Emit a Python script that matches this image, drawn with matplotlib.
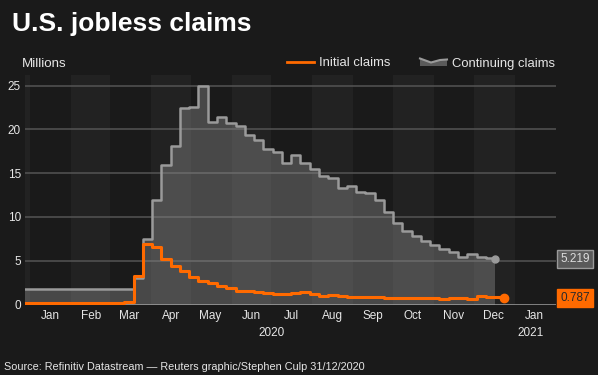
import matplotlib
matplotlib.use("Agg")
import matplotlib.pyplot as plt
from matplotlib.patches import Polygon
from matplotlib.lines import Line2D
import pandas as pd

plt.rcParams['font.family'] = ['Liberation Sans', 'DejaVu Sans']

BG = '#1a1a1a'
BAND = '#222222'
ORANGE = '#ff6a00'
GREY_LINE = '#9a9a9a'
TXT = '#e6e6e6'

# weekly data (millions), plotted on Thursdays
cont_dates = pd.date_range('2019-12-26', '2020-12-17', freq='7D')
continuing = [1.80, 1.73, 1.73, 1.73, 1.72, 1.72, 1.72, 1.72, 1.72, 1.72,
              1.72, 1.80, 3.03, 7.45, 11.9, 15.9, 18.1, 22.4, 22.6, 25.0,
              20.8, 21.4, 20.7, 20.4, 19.3, 18.8, 17.8, 17.4, 16.2, 17.1,
              16.1, 15.5, 14.7, 14.4, 13.3, 13.5, 12.8, 12.7, 11.9, 10.6,
              9.3, 8.4, 7.85, 7.2, 6.8, 6.3, 6.0, 5.45, 5.8, 5.45,
              5.3, 5.219]

init_dates = pd.date_range('2019-12-26', '2020-12-24', freq='7D')
initial = [0.22, 0.21, 0.21, 0.22, 0.22, 0.20, 0.20, 0.21, 0.22, 0.22,
           0.21, 0.25, 3.31, 6.87, 6.62, 5.24, 4.44, 3.87, 3.18, 2.69,
           2.45, 2.13, 1.90, 1.58, 1.56, 1.45, 1.30, 1.20, 1.20, 1.35,
           1.47, 1.15, 1.00, 1.12, 1.00, 0.89, 0.88, 0.87, 0.87, 0.78,
           0.78, 0.79, 0.78, 0.77, 0.77, 0.65, 0.78, 0.77, 0.65, 0.92,
           0.90, 0.80, 0.787]

month_labels = ['Jan', 'Feb', 'Mar', 'Apr', 'May', 'Jun', 'Jul', 'Aug',
                'Sep', 'Oct', 'Nov', 'Dec', 'Jan']
month_mids = pd.to_datetime([f'2020-{m:02d}-16' for m in range(1, 13)] + ['2021-01-16'])
y_ticks = [0, 5, 10, 15, 20, 25]

W, H = 598, 375
fig = plt.figure(figsize=(W / 100, H / 100), dpi=100, facecolor=BG)
ax = fig.add_axes([25 / W, (H - 304.5) / H, (556 - 25) / W, (304.5 - 75) / H])
ax.set_facecolor(BG)

ax.set_xlim(pd.Timestamp('2019-12-28'), pd.Timestamp('2021-02-01'))
ax.set_ylim(0, 26.2)

# alternating month bands
months = pd.date_range('2019-12-01', '2021-02-01', freq='MS')
for a, b in zip(months[:-1], months[1:]):
    if a.month % 2 == 0:
        ax.axvspan(a, b, color=BAND, lw=0, zorder=0)

for s in ax.spines.values():
    s.set_visible(False)

for v in y_ticks[1:]:
    ax.axhline(v, color='#505050', lw=1.2, zorder=1)
ax.axhline(0, color='#a0a0a0', lw=1.8, zorder=5)

# continuing claims area
ax.fill_between(cont_dates, continuing, 0, step='post', color='#8a8a8a',
                alpha=0.42, lw=0, zorder=2)
ax.plot(cont_dates, continuing, drawstyle='steps-post', color=GREY_LINE,
        lw=1.8, zorder=3)
ax.plot(cont_dates[-1], continuing[-1], 'o', color=GREY_LINE, ms=5, zorder=4)

# initial claims
ax.plot(init_dates, initial, drawstyle='steps-post', color=ORANGE, lw=2.2,
        zorder=6)
ax.plot(init_dates[-1], initial[-1], 'o', color=ORANGE, ms=6, zorder=7)

ax.set_yticks(y_ticks)
ax.set_yticklabels([str(v) for v in y_ticks])
ax.set_xticks(month_mids)
ax.set_xticklabels(month_labels)
ax.tick_params(axis='both', length=0, colors=TXT, labelsize=8.5)
ax.tick_params(axis='y', pad=3)
ax.tick_params(axis='x', pad=4)

trans = ax.get_xaxis_transform()
ax.text(pd.Timestamp('2020-07-01'), -0.1, '2020', transform=trans,
        ha='center', va='top', color=TXT, fontsize=8.5)
ax.text(pd.Timestamp('2021-01-13'), -0.1, '2021', transform=trans,
        ha='center', va='top', color=TXT, fontsize=8.5)

# end value labels
ax.annotate(f'{continuing[-1]:.3f}', xy=(1, continuing[-1]),
            xycoords=('axes fraction', 'data'), xytext=(3, 0),
            textcoords='offset points', ha='left', va='center',
            color='#dddddd', fontsize=8.5,
            bbox=dict(boxstyle='square,pad=0.25', fc='#5a5a5a', ec='#9a9a9a', lw=1))
ax.annotate(f'{initial[-1]:.3f}', xy=(1, initial[-1]),
            xycoords=('axes fraction', 'data'), xytext=(3, 0),
            textcoords='offset points', ha='left', va='center',
            color='#2a2a2a', fontsize=8.5,
            bbox=dict(boxstyle='square,pad=0.25', fc=ORANGE, ec=ORANGE, lw=1))

# title, units, source
fig.text(12 / W, (H - 31) / H, 'U.S. jobless claims', color='white',
         fontsize=19, fontweight='bold', ha='left', va='baseline')
fig.text(22 / W, (H - 67) / H, 'Millions', color=TXT, fontsize=9.6,
         ha='left', va='baseline')
fig.text(4 / W, (H - 370) / H,
         'Source: Refinitiv Datastream \u2014 Reuters graphic/Stephen Culp 31/12/2020',
         color=TXT, fontsize=7.8, ha='left', va='baseline')


# legend (drawn by hand in pixel space)
def px(x, y):
    return (x / W, (H - y) / H)


fig.add_artist(Line2D([287 / W, 314 / W], [(H - 62) / H] * 2, color=ORANGE,
                      lw=2, transform=fig.transFigure))
fig.text(319 / W, (H - 66.5) / H, 'Initial claims', color=TXT, fontsize=9.4,
         ha='left', va='baseline')
top = [(420, 58.5), (431, 62.5), (440, 60), (447, 59.5)]
poly = [px(*p) for p in top] + [px(447, 66), px(420, 66)]
fig.add_artist(Polygon(poly, closed=True, fc='#5a5a5a', ec='none',
                       transform=fig.transFigure))
fig.add_artist(Line2D([p[0] / W for p in top], [(H - p[1]) / H for p in top],
                      color=GREY_LINE, lw=1.5, transform=fig.transFigure))
fig.text(452 / W, (H - 66.5) / H, 'Continuing claims', color=TXT, fontsize=9.4,
         ha='left', va='baseline')

fig.savefig('out.png', dpi=100, facecolor=BG)
